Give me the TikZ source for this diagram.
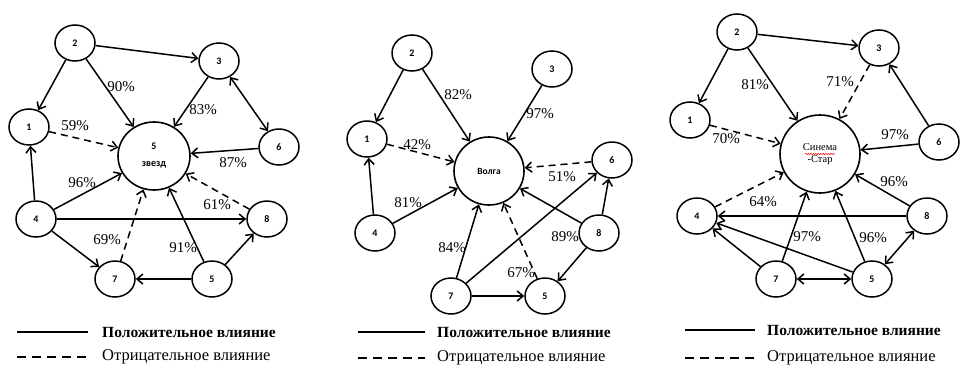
\documentclass[tikz,border=0pt]{standalone}
\usepackage{fontspec}
\setmainfont{Liberation Serif}
\newfontfamily\numfont{Carlito}
\usetikzlibrary{arrows.meta,shapes.geometric,decorations.pathmorphing}
\tikzset{
  sm/.style={ellipse, draw, line width=1.5pt, minimum width=40pt, minimum height=36pt, inner sep=0pt, font=\numfont\bfseries\fontsize{10}{12}\selectfont},
  big/.style={ellipse, draw, line width=1.6pt, inner sep=0pt, align=center},
  posarr/.style={line width=1.5pt, -{Straight Barb[length=6pt,width=10pt,line width=1.5pt]}},
  bothar/.style={line width=1.5pt, {Straight Barb[length=6pt,width=10pt,line width=1.5pt]}-{Straight Barb[length=6pt,width=10pt,line width=1.5pt]}},
  negarr/.style={posarr, dash pattern=on 7pt off 5pt},
  lbl/.style={inner sep=0pt, font=\fontsize{15}{17}\selectfont},
  legline/.style={line width=2pt},
  legdash/.style={line width=2pt, dash pattern=on 9pt off 6pt},
  legpos/.style={anchor=west, inner sep=0pt, font=\bfseries\fontsize{15.5}{17}\selectfont},
  legneg/.style={anchor=west, inner sep=0pt, font=\fontsize{16.5}{18}\selectfont}
}
\begin{document}
\begin{tikzpicture}[x=1pt,y=-1pt]
\useasboundingbox[fill=white] (0,0) rectangle (960,367);

% ---------- Panel 1 ----------
\node[sm] (a2) at (75,43) {2};
\node[sm] (a3) at (219,61) {3};
\node[sm] (a1) at (29,127) {1};
\node[big, minimum width=72pt, minimum height=68pt, font=\numfont\bfseries\fontsize{10}{17}\selectfont] (a5b) at (154,156) {5\\звезд};
\node[sm] (a6) at (279,147) {6};
\node[sm] (a4) at (36,219) {4};
\node[sm] (a8) at (267,219) {8};
\node[sm] (a7) at (115,279) {7};
\node[sm] (a5) at (212,279) {5};

\draw[posarr] (a2) -- (a3);
\draw[posarr] (a2) -- (a1);
\draw[posarr] (a2) -- (a5b);
\draw[posarr] (a3) -- (a5b);
\draw[bothar] (a3) -- (a6);
\draw[posarr] (a6) -- (a5b);
\draw[negarr] (a1) -- (a5b);
\draw[posarr] (a4) -- (a1);
\draw[posarr] (a4) -- (a5b);
\draw[posarr] (a4) -- (a8);
\draw[posarr] (a4) -- (a7);
\draw[negarr] (a7) -- (a5b);
\draw[negarr] (a8) -- (a5b);
\draw[posarr] (a5) -- (a5b);
\draw[posarr] (a5) -- (a7);
\draw[posarr] (a5) -- (a8);

\node[lbl] (la1) at (121,87) {90\%};
\node[lbl] (la2) at (203,110) {83\%};
\node[lbl] (la3) at (75,126) {59\%};
\node[lbl] (la4) at (233,163) {87\%};
\node[lbl] (la5) at (82,183) {96\%};
\node[lbl] (la6) at (217,205) {61\%};
\node[lbl] (la7) at (107,240) {69\%};
\node[lbl] (la8) at (183,248) {91\%};

\coordinate (ga1) at (17,332); \coordinate (ga2) at (88,332);
\coordinate (ga3) at (17,357); \coordinate (ga4) at (88,357);
\draw[legline] (ga1) -- (ga2);
\draw[legdash] (ga3) -- (ga4);
\node[legpos] (ta1) at (102,332) {Положительное влияние};
\node[legneg] (ta2) at (102,357) {Отрицательное влияние};

% ---------- Panel 2 ----------
\node[sm] (b2) at (412,53) {2};
\node[sm] (b3) at (552,69) {3};
\node[sm] (b1) at (367,139) {1};
\node[big, minimum width=70pt, minimum height=68pt, font=\numfont\bfseries\fontsize{9.5}{12}\selectfont] (bV) at (489,171) {Волга};
\node[sm] (b6) at (612,160) {6};
\node[sm] (b4) at (375,233) {4};
\node[sm] (b8) at (599,233) {8};
\node[sm] (b7) at (451,296) {7};
\node[sm] (b5) at (545,296) {5};

\draw[posarr] (b2) -- (b1);
\draw[posarr] (b2) -- (bV);
\draw[posarr] (b3) -- (bV);
\draw[negarr] (b1) -- (bV);
\draw[negarr] (b6) -- (bV);
\draw[posarr] (b4) -- (b1);
\draw[posarr] (b4) -- (bV);
\draw[posarr] (b7) -- (bV);
\draw[posarr] (b7) -- (b6);
\draw[posarr] (b7) -- (b5);
\draw[posarr] (b8) -- (bV);
\draw[posarr] (b8) -- (b6);
\draw[posarr] (b8) -- (b5);
\draw[negarr] (b5) -- (bV);

\node[lbl] (lb1) at (458,95) {82\%};
\node[lbl] (lb2) at (540,114) {97\%};
\node[lbl] (lb3) at (417,145) {42\%};
\node[lbl] (lb4) at (562,177) {51\%};
\node[lbl] (lb5) at (408,203) {81\%};
\node[lbl] (lb6) at (452,248) {84\%};
\node[lbl] (lb7) at (565,237) {89\%};
\node[lbl] (lb8) at (521,273) {67\%};

\coordinate (gb1) at (358,332); \coordinate (gb2) at (425,332);
\coordinate (gb3) at (358,358); \coordinate (gb4) at (425,358);
\draw[legline] (gb1) -- (gb2);
\draw[legdash] (gb3) -- (gb4);
\node[legpos] (tb1) at (437,332) {Положительное влияние};
\node[legneg] (tb2) at (437,358) {Отрицательное влияние};

% ---------- Panel 3 ----------
\node[sm] (c2) at (737,32) {2};
\node[sm] (c3) at (879,48) {3};
\node[sm] (c1) at (690,120) {1};
\node[big, minimum width=80pt, minimum height=78pt, font=\fontsize{10.5}{12.5}\selectfont] (cS) at (820,154) {Синема\\-Стар};
\node[sm] (c6) at (939,142) {6};
\node[sm] (c4) at (697,216) {4};
\node[sm] (c8) at (927,216) {8};
\node[sm] (c7) at (776,279) {7};
\node[sm] (c5) at (872,279) {5};

\draw[red, line width=0.5pt, decorate, decoration={snake, amplitude=0.7pt, segment length=2.5pt}] (805,154) -- (835,154);

\draw[posarr] (c2) -- (c3);
\draw[posarr] (c2) -- (c1);
\draw[posarr] (c2) -- (cS);
\draw[negarr] (c3) -- (cS);
\draw[posarr] (c6) -- (c3);
\draw[posarr] (c6) -- (cS);
\draw[negarr] (c1) -- (cS);
\draw[posarr] (c8) -- (cS);
\draw[negarr] (c4) -- (cS);
\draw[posarr] (c8) -- (c4);
\draw[posarr] (c7) -- (c4);
\draw[posarr] (c5) -- (c4);
\draw[posarr] (c7) -- (cS);
\draw[posarr] (c5) -- (cS);
\draw[bothar] (c7) -- (c5);
\draw[bothar] (c5) -- (c8);

\node[lbl] (lc1) at (755,85) {81\%};
\node[lbl] (lc2) at (840,82) {71\%};
\node[lbl] (lc3) at (726,139) {70\%};
\node[lbl] (lc4) at (895,135) {97\%};
\node[lbl] (lc5) at (894,182) {96\%};
\node[lbl] (lc6) at (763,202) {64\%};
\node[lbl] (lc7) at (807,237) {97\%};
\node[lbl] (lc8) at (873,238) {96\%};

\coordinate (gc1) at (685,330); \coordinate (gc2) at (755,330);
\coordinate (gc3) at (685,358); \coordinate (gc4) at (755,358);
\draw[legline] (gc1) -- (gc2);
\draw[legdash] (gc3) -- (gc4);
\node[legpos] (tc1) at (767,330) {Положительное влияние};
\node[legneg] (tc2) at (767,358) {Отрицательное влияние};
\end{tikzpicture}
\end{document}
